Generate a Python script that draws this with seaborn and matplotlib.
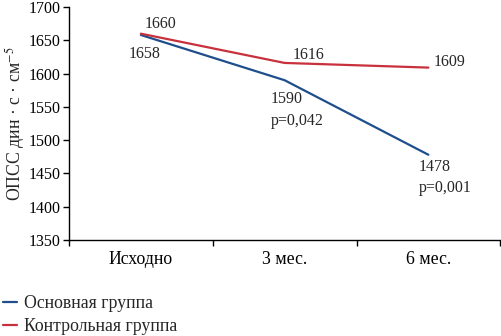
import matplotlib
matplotlib.use("Agg")
import matplotlib.pyplot as plt
import seaborn as sns
import pandas as pd
from matplotlib.lines import Line2D

periods = ["Исходно", "3 мес.", "6 мес."]
main_group = [1658, 1590, 1478]
control_group = [1660, 1616, 1609]
main_p = ["", "p=0,042", "p=0,001"]
groups = ["Основная группа", "Контрольная группа"]
colors = ["#1f4e8c", "#c8313c"]

sns.set_theme(style="white")
plt.rcParams["font.family"] = ["Liberation Serif", "DejaVu Serif"]
plt.rcParams["mathtext.fontset"] = "stix"

df = pd.DataFrame({
    "period": periods * 2,
    "pos": list(range(len(periods))) * 2,
    "value": main_group + control_group,
    "group": [groups[0]] * 3 + [groups[1]] * 3,
})

fig = plt.figure(figsize=(5.02, 3.36), dpi=100)
ax = fig.add_axes([0.1375, 0.286, 0.859, 0.693])

sns.lineplot(data=df, x="pos", y="value", hue="group", palette=colors,
             hue_order=groups, linewidth=1.6, ax=ax, legend=False)

ax.set_xlim(-0.5, 2.5)
ax.set_ylim(1350, 1700)
ax.set_yticks(range(1350, 1701, 50))
ax.set_xticks(range(len(periods)))
ax.set_xticklabels(periods)
ax.set_xticks([-0.5, 0.5, 1.5, 2.5], minor=True)
ax.tick_params(axis="y", direction="out", length=4, width=1, color="black",
               left=True, labelsize=11.5, pad=2, labelcolor="black")
ax.tick_params(axis="x", which="major", length=0, labelsize=12.8, pad=8,
               labelcolor="black")
ax.tick_params(axis="x", which="minor", direction="out", length=4, width=1,
               color="black", bottom=True)
ax.set_xlabel("")
ax.set_ylabel("ОПСС дин · с · см$^{-5}$", fontsize=12.8, labelpad=1)

for side in ["top", "right"]:
    ax.spines[side].set_visible(False)
for side in ["left", "bottom"]:
    ax.spines[side].set_color("black")
    ax.spines[side].set_linewidth(1)

fs = 11.5
# control group labels
ax.annotate(str(control_group[0]), (0, control_group[0]), xytext=(3, 1),
            textcoords="offset points", fontsize=fs, ha="left", va="bottom")
ax.annotate(str(control_group[1]), (1, control_group[1]), xytext=(6, 0),
            textcoords="offset points", fontsize=fs, ha="left", va="bottom")
ax.annotate(str(control_group[2]), (2, control_group[2]), xytext=(4, 4),
            textcoords="offset points", fontsize=fs, ha="left", va="center")
# main group labels
ax.annotate(str(main_group[0]), (0, main_group[0]), xytext=(-9, -8),
            textcoords="offset points", fontsize=fs, ha="left", va="top")
ax.annotate(f"{main_group[1]}\n{main_p[1]}", (1, main_group[1]), xytext=(-10, -8),
            textcoords="offset points", fontsize=fs, ha="left", va="top",
            linespacing=1.45)
ax.annotate(f"{main_group[2]}\n{main_p[2]}", (2, main_group[2]), xytext=(-7, -3),
            textcoords="offset points", fontsize=fs, ha="left", va="top",
            linespacing=1.45)

handles = [Line2D([], [], color=c, linewidth=1.6) for c in colors]
fig.legend(handles, groups, loc="lower left", bbox_to_anchor=(-0.016, -0.03),
           frameon=False, fontsize=12.8, handlelength=0.8, handletextpad=0.4,
           labelspacing=0.35, borderaxespad=0.2)

fig.savefig("out.png", dpi=100)
